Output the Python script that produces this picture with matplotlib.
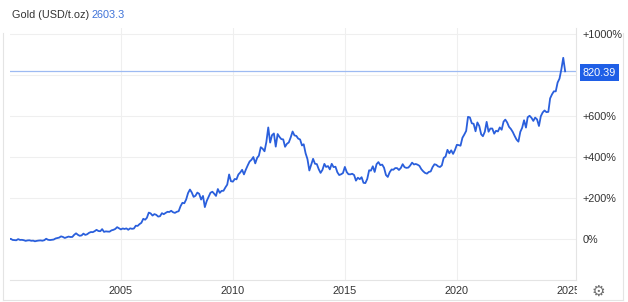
import matplotlib

matplotlib.use("Agg")
import matplotlib.pyplot as plt
import numpy as np
import pandas as pd
from matplotlib.patches import Rectangle
from matplotlib.lines import Line2D

plt.rcParams["font.family"] = ["Liberation Sans", "DejaVu Sans"]

# gold price, USD/t.oz, monthly (plotted as % change from first value)
p2000 = [283, 293, 277, 274, 272, 288, 277, 278, 273, 264, 270, 272]
p2001 = [265, 267, 258, 264, 268, 270, 266, 273, 293, 279, 275, 279]
p2002 = [282, 297, 302, 309, 326, 318, 304, 313, 323, 317, 318, 347]
p2003 = [368, 347, 334, 339, 364, 346, 355, 375, 386, 384, 398, 416]
p2004 = [400, 397, 426, 388, 395, 392, 391, 409, 416, 428, 453, 438]
p2005 = [422, 435, 428, 436, 417, 437, 430, 434, 473, 470, 495, 513]
p2006 = [568, 556, 582, 654, 643, 613, 633, 623, 599, 604, 646, 632]
p2007 = [650, 665, 662, 679, 659, 650, 665, 673, 743, 789, 783, 834]
p2008 = [923, 972, 933, 871, 886, 930, 913, 834, 884, 730, 815, 870]
p2009 = [928, 942, 916, 884, 979, 926, 954, 955, 1001, 1040, 1180, 1087]
p2010 = [1081, 1118, 1113, 1180, 1207, 1244, 1181, 1248, 1307, 1359, 1383, 1421]
p2011 = [1333, 1410, 1439, 1556, 1536, 1500, 1628, 1829, 1620, 1722, 1746, 1564]
p2012 = [1738, 1697, 1668, 1664, 1562, 1604, 1622, 1692, 1773, 1719, 1712, 1675]
p2013 = [1663, 1580, 1597, 1472, 1393, 1235, 1312, 1396, 1328, 1323, 1253, 1202]
p2014 = [1244, 1326, 1284, 1296, 1250, 1327, 1282, 1287, 1210, 1172, 1183, 1199]
p2015 = [1284, 1213, 1183, 1182, 1190, 1172, 1095, 1135, 1115, 1142, 1065, 1061]
p2016 = [1118, 1238, 1233, 1293, 1215, 1322, 1351, 1309, 1316, 1273, 1173, 1146]
p2017 = [1211, 1249, 1245, 1268, 1268, 1242, 1269, 1322, 1280, 1271, 1275, 1303]
p2018 = [1343, 1318, 1325, 1315, 1299, 1253, 1224, 1201, 1192, 1215, 1222, 1281]
p2019 = [1321, 1313, 1292, 1283, 1305, 1409, 1427, 1520, 1472, 1513, 1464, 1517]
p2020 = [1589, 1585, 1577, 1686, 1730, 1781, 1975, 1967, 1886, 1879, 1776, 1898]
p2021 = [1848, 1734, 1708, 1769, 1906, 1770, 1814, 1814, 1743, 1783, 1774, 1829]
p2022 = [1797, 1909, 1937, 1897, 1837, 1807, 1766, 1711, 1661, 1633, 1768, 1824]
p2023 = [1928, 1827, 1969, 1990, 1963, 1919, 1965, 1940, 1849, 1983, 2036, 2063]
p2024 = [2040, 2044, 2230, 2286, 2327, 2327, 2448, 2503, 2634, 2790, 2603.3]

prices = (p2000 + p2001 + p2002 + p2003 + p2004 + p2005 + p2006 + p2007 + p2008
          + p2009 + p2010 + p2011 + p2012 + p2013 + p2014 + p2015 + p2016 + p2017
          + p2018 + p2019 + p2020 + p2021 + p2022 + p2023 + p2024)
base_price = 282.85
last_pct = 820.39

dates = pd.date_range("2000-01-01", periods=len(prices), freq="MS")
pct = np.array(prices) / base_price * 100 - 100

y_ticks = [0, 200, 400, 600, 800, 1000]
y_labels = ["0%", "+200%", "+400%", "+600%", "", "+1000%"]
x_years = [2005, 2010, 2015, 2020, 2025]

W, H = 628, 302
fig = plt.figure(figsize=(W / 100, H / 100), dpi=100)
ax = fig.add_axes([10 / W, 22 / H, 566 / W, 252 / H])

line_c = "#2a5fdc"
grid_c = "#efefef"
border_c = "#e4e4e4"
text_c = "#333333"

ax.plot(dates, pct, color=line_c, lw=1.3, solid_joinstyle="round", zorder=3)
ax.axhline(last_pct, color="#9dbaf2", lw=0.9, zorder=2)

ax.set_xlim(pd.Timestamp("2000-01-20"), pd.Timestamp("2025-04-27"))
ax.set_ylim(-197.6, 1031.7)

ax.set_yticks(y_ticks)
ax.set_yticklabels(y_labels)
ax.yaxis.tick_right()
ax.tick_params(axis="y", length=0, pad=5, labelsize=7.8, labelcolor=text_c)
ax.set_xticks([pd.Timestamp(f"{y}-01-01") for y in x_years[:-1]])
ax.tick_params(axis="x", length=0, labelbottom=False)
ax.grid(True, color=grid_c, lw=0.8)
ax.set_axisbelow(True)

for s in ["left", "top"]:
    ax.spines[s].set_visible(False)
for s in ["bottom", "right"]:
    ax.spines[s].set_color(border_c)
    ax.spines[s].set_linewidth(0.8)

# year labels, the last one cut at the plot edge
clip = Rectangle((0, 0), 577 / W, 1, transform=fig.transFigure)
for y in x_years:
    t = ax.text(pd.Timestamp(f"{y}-01-01"), -10.5 / 252, str(y),
                transform=ax.get_xaxis_transform(), ha="center", va="center",
                fontsize=7.8, color=text_c, clip_on=True)
    t.set_clip_path(clip)

# last value box
fig.text(599.5 / W, 1 - 72.5 / H, "820.39", ha="center", va="center",
         fontsize=7.8, color="white",
         bbox=dict(boxstyle="square,pad=0.28", fc="#1f5fe6", ec="none"))

# header
fig.text(12 / W, 1 - 15 / H, "Gold (USD/t.oz)", ha="left", va="center",
         fontsize=7.8, color=text_c)
fig.text(91 / W, 1 - 15 / H, "2603.3", ha="left", va="center",
         fontsize=7.8, color="#3f73d8")

# settings gear
fig.text(598 / W, 1 - 291 / H, "\u2699", ha="center", va="center",
         fontsize=11, color="#6f6f6f", family="DejaVu Sans")

# outer frame
fig.add_artist(Line2D([3 / W, 3 / W], [1 - 33 / H, 1 - 300 / H],
                      transform=fig.transFigure, color=border_c, lw=0.8))
fig.add_artist(Line2D([3 / W, 623 / W], [1 - 300 / H, 1 - 300 / H],
                      transform=fig.transFigure, color=border_c, lw=0.8))
fig.add_artist(Line2D([623 / W, 623 / W], [1 - 33 / H, 1 - 300 / H],
                      transform=fig.transFigure, color=border_c, lw=0.8))

fig.savefig("out.png", dpi=100)
